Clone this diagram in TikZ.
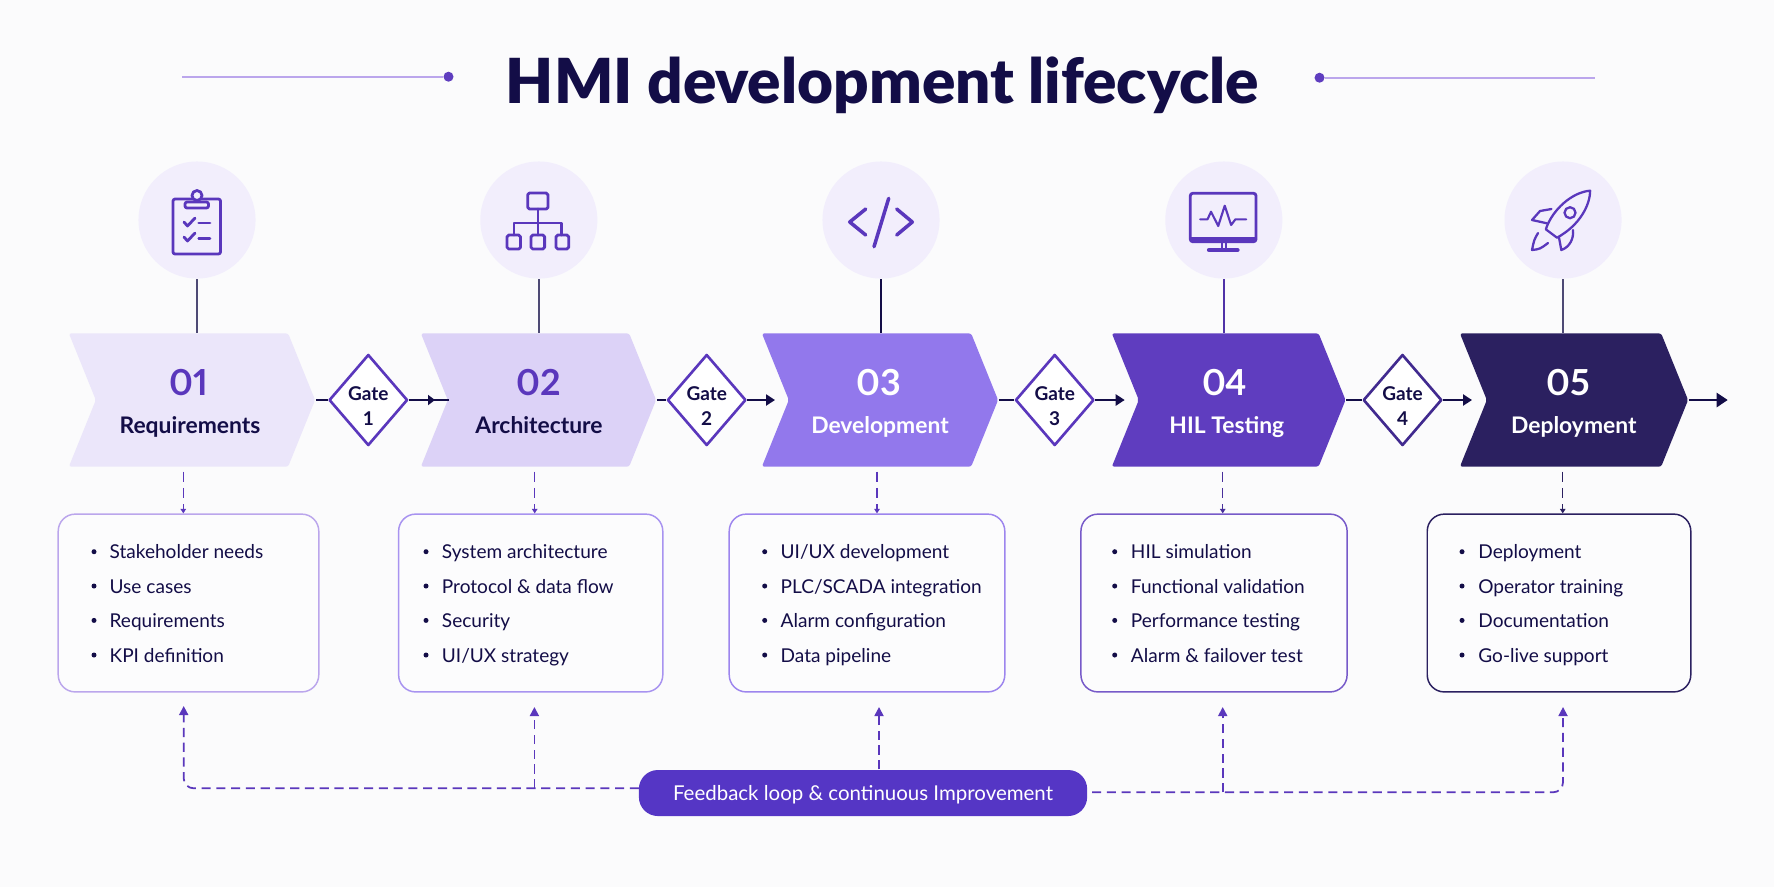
\documentclass[tikz,border=0pt]{standalone}
\usepackage{fontspec}
\setmainfont{Lato}
\newfontfamily\titlefont{Lato Black}
\usetikzlibrary{arrows.meta,shapes.geometric,shapes.symbols}

\definecolor{pagecol}{HTML}{FBFBFC}
\definecolor{inkcol}{HTML}{130D47}
\definecolor{purplecol}{HTML}{5A37BC}
\definecolor{disccol}{HTML}{F2EEFC}
\definecolor{chevcola}{HTML}{EBE6FA}
\definecolor{chevcolb}{HTML}{DCD2F7}
\definecolor{chevcolc}{HTML}{9278EC}
\definecolor{chevcold}{HTML}{5F3DBF}
\definecolor{chevcole}{HTML}{2B2060}
\definecolor{rulecol}{HTML}{BBA6EC}

\tikzset{
    chevron/.style={shape=signal, signal from=west, signal to=east, signal pointer angle=136,
        inner sep=0pt, minimum height=1.33cm, rounded corners=0.6pt},
    disc/.style={circle, fill=disccol, minimum size=1.17cm, inner sep=0pt},
    gatebox/.style={diamond, draw=purplecol, fill=white, line width=0.75pt, inner sep=0pt,
        minimum width=0.785cm, minimum height=0.91cm, line join=round},
    gatetext/.style={align=center, text=inkcol, font=\fontsize{5.4}{6.95}\selectfont\bfseries},
    numtext/.style={anchor=base, font=\fontsize{10.2}{12}\selectfont\bfseries\addfontfeature{Numbers=Proportional}},
    nametext/.style={anchor=base, font=\fontsize{6.5}{8}\selectfont\bfseries},
    listbox/.style={rectangle, rounded corners=0.17cm, line width=0.42pt, fill=white!30!pagecol},
    itemtext/.style={anchor=base west, inner sep=0pt, xshift=-0.3pt, yshift=-0.3pt, text=inkcol, font=\fontsize{5.42}{7}\selectfont},
    itemdot/.style={circle, fill=inkcol, minimum size=0.05cm, inner sep=0pt},
    flowline/.style={draw=inkcol, line width=0.7pt},
    flowarrow/.style={flowline, -{Stealth[length=0.09cm,width=0.11cm,inset=0pt]}},
    stemline/.style={draw=inkcol!75, line width=0.55pt},
    stubarrow/.style={purplecol, dashed, dash pattern=on 3pt off 1.6pt, line width=0.4pt,
        -{Stealth[length=0.045cm,width=0.055cm,inset=0pt]}},
    fbline/.style={draw=purplecol, dash pattern=on 2.6pt off 1.6pt, line width=0.5pt},
    fbarrow/.style={fbline, -{Stealth[length=0.09cm,width=0.09cm,inset=0pt]}},
    iconline/.style={draw=purplecol, line width=0.8pt, line cap=round, line join=round},
}

\begin{document}
\begin{tikzpicture}[x=0.01cm, y=-0.01cm]
    % Page background
    \fill[pagecol] (0,0) rectangle (1774,887);

    % Title with its two side rules
    \node[anchor=base, text=inkcol, font=\fontsize{17.65}{20}\selectfont\titlefont] (title) at (882.5,103) {HMI development lifecycle};
    \node[circle, fill=chevcold, minimum size=0.1cm, inner sep=0pt] (dotleft) at (448.5,76.7) {};
    \node[circle, fill=chevcold, minimum size=0.1cm, inner sep=0pt] (dotright) at (1319.5,77.7) {};
    \coordinate (ruleleft) at (182,76.7);
    \coordinate (ruleright) at (1595,77.7);
    \draw[rulecol, line width=0.5pt] (ruleleft) -- (dotleft);
    \draw[rulecol, line width=0.5pt] (dotright) -- (ruleright);

    % Icon discs
    \node[disc] (disc1) at (197,220) {};
    \node[disc] (disc2) at (538.8,220) {};
    \node[disc] (disc3) at (881,220) {};
    \node[disc] (disc4) at (1223.8,220) {};
    \node[disc] (disc5) at (1563,220) {};

    % Chevrons
    \node[chevron, fill=chevcola, minimum width=2.46cm] (chev1) at (192,400) {};
    \node[chevron, fill=chevcolb, minimum width=2.35cm] (chev2) at (538.5,400) {};
    \node[chevron, fill=chevcolc, minimum width=2.36cm] (chev3) at (880,400) {};
    \node[chevron, fill=chevcold, minimum width=2.335cm] (chev4) at (1228.7,400) {};
    \node[chevron, fill=chevcole, minimum width=2.28cm] (chev5) at (1574,400) {};

    % Stems from discs down to the chevrons
    \draw[stemline] (disc1.south) -- (disc1.south |- chev1.north);
    \draw[stemline] (disc2.south) -- (disc2.south |- chev2.north);
    \draw[stemline, draw=inkcol] (disc3.south) -- (disc3.south |- chev3.north);
    \draw[stemline, draw=chevcold!80!inkcol] (disc4.south) -- (disc4.south |- chev4.north);
    \draw[stemline] (disc5.south) -- (disc5.south |- chev5.north);

    % Chevron labels
    \node[numtext, text=purplecol] (num1) at (188.5,395) {01};
    \node[nametext, text=inkcol] (name1) at (190,433.2) {Requirements};
    \node[numtext, text=purplecol] (num2) at (539,395) {02};
    \node[nametext, text=inkcol] (name2) at (539,433.2) {Architecture};
    \node[numtext, text=white] (num3) at (879,395) {03};
    \node[nametext, text=white] (name3) at (880,433.2) {Development};
    \node[numtext, text=white] (num4) at (1224.7,395) {04};
    \node[nametext, text=white] (name4) at (1226.8,433.2) {HIL Testing};
    \node[numtext, text=white] (num5) at (1568.6,395) {05};
    \node[nametext, text=white] (name5) at (1573.8,433.2) {Deployment};

    % Gates
    \node[gatebox] (gate1) at (368.3,400) {};
    \node[gatebox] (gate2) at (706.7,400) {};
    \node[gatebox] (gate3) at (1054.7,400) {};
    \node[gatebox, draw=chevcold!60!inkcol] (gate4) at (1402.5,400) {};
    \node[gatetext] (gatetext1) at (368.3,406) {Gate\\1};
    \node[gatetext] (gatetext2) at (706.7,406) {Gate\\2};
    \node[gatetext] (gatetext3) at (1054.7,406) {Gate\\3};
    \node[gatetext] (gatetext4) at (1402.5,406) {Gate\\4};

    % Main flow along the chevrons
    \coordinate (head1) at (435,400);
    \coordinate (head2) at (775,400);
    \coordinate (head3) at (1124.7,400);
    \coordinate (head4) at (1472,400);
    \coordinate (head5) at (1727.7,400);
    \coordinate (notch2) at (449,400);
    \draw[flowline] (chev1.east) -- (gate1.west);
    \draw[flowline] (gate1.east) -- (notch2);
    \draw[flowarrow, -{Stealth[length=0.07cm,width=0.1cm,inset=0pt]}] (gate1.east) -- (head1);
    \draw[flowline] (chev2.east) -- (gate2.west);
    \draw[flowarrow] (gate2.east) -- (head2);
    \draw[flowline] (chev3.east) -- (gate3.west);
    \draw[flowarrow] (gate3.east) -- (head3);
    \draw[flowline] (chev4.east) -- (gate4.west);
    \draw[flowarrow] (gate4.east) -- (head4);
    \draw[flowarrow, -{Stealth[length=0.11cm,width=0.14cm,inset=0pt]}] (chev5.east) -- (head5);

    % Detail boxes
    \node[listbox, draw=rulecol, minimum width=2.604cm, minimum height=1.777cm] (box1) at (188.5,603) {};
    \node[listbox, draw=chevcolc!80, minimum width=2.64cm, minimum height=1.777cm] (box2) at (530.7,603) {};
    \node[listbox, draw=chevcolc!90, minimum width=2.754cm, minimum height=1.777cm] (box3) at (867,603) {};
    \node[listbox, draw=chevcold!85, minimum width=2.66cm, minimum height=1.777cm] (box4) at (1214,603) {};
    \node[listbox, draw=chevcole, minimum width=2.634cm, minimum height=1.777cm] (box5) at (1559,603) {};

    % Dashed stubs from chevrons to boxes
    \coordinate (stub1) at (183.3,471.7);
    \coordinate (stub2) at (534.7,471.7);
    \coordinate (stub3) at (877,471.7);
    \coordinate (stub4) at (1222.7,471.7);
    \coordinate (stub5) at (1562.7,471.7);
    \draw[stubarrow] (stub1) -- (stub1 |- box1.north);
    \draw[stubarrow] (stub2) -- (stub2 |- box2.north);
    \draw[stubarrow] (stub3) -- (stub3 |- box3.north);
    \draw[stubarrow, chevcold!70!inkcol] (stub4) -- (stub4 |- box4.north);
    \draw[stubarrow, chevcole] (stub5) -- (stub5 |- box5.north);

    % Box 1 items
    \node[itemdot] (dot11) at (94,551.7) {};
    \node[itemtext] (item11) at (110,557.7) {Stakeholder needs};
    \node[itemdot] (dot12) at (94,586) {};
    \node[itemtext] (item12) at (110,592) {Use cases};
    \node[itemdot] (dot13) at (94,620.4) {};
    \node[itemtext] (item13) at (110,626.3) {Requirements};
    \node[itemdot] (dot14) at (94,655) {};
    \node[itemtext] (item14) at (110,661) {KPI definition};

    % Box 2 items
    \node[itemdot] (dot21) at (426,551.7) {};
    \node[itemtext] (item21) at (442.3,557.7) {System architecture};
    \node[itemdot] (dot22) at (426,586) {};
    \node[itemtext] (item22) at (442.3,592) {Protocol \& data flow};
    \node[itemdot] (dot23) at (426,620.4) {};
    \node[itemtext] (item23) at (442.3,626.3) {Security};
    \node[itemdot] (dot24) at (426,655) {};
    \node[itemtext] (item24) at (442.3,661) {UI/UX strategy};

    % Box 3 items
    \node[itemdot] (dot31) at (764.7,551.7) {};
    \node[itemtext] (item31) at (781,557.7) {UI/UX development};
    \node[itemdot] (dot32) at (764.7,586) {};
    \node[itemtext] (item32) at (781,592) {PLC/SCADA integration};
    \node[itemdot] (dot33) at (764.7,620.4) {};
    \node[itemtext] (item33) at (781,626.3) {Alarm configuration};
    \node[itemdot] (dot34) at (764.7,655) {};
    \node[itemtext] (item34) at (781,661) {Data pipeline};

    % Box 4 items
    \node[itemdot] (dot41) at (1114.7,551.7) {};
    \node[itemtext] (item41) at (1131.3,557.7) {HIL simulation};
    \node[itemdot] (dot42) at (1114.7,586) {};
    \node[itemtext] (item42) at (1131.3,592) {Functional validation};
    \node[itemdot] (dot43) at (1114.7,620.4) {};
    \node[itemtext] (item43) at (1131.3,626.3) {Performance testing};
    \node[itemdot] (dot44) at (1114.7,655) {};
    \node[itemtext] (item44) at (1131.3,661) {Alarm \& failover test};

    % Box 5 items
    \node[itemdot] (dot51) at (1462,551.7) {};
    \node[itemtext] (item51) at (1478.7,557.7) {Deployment};
    \node[itemdot] (dot52) at (1462,586) {};
    \node[itemtext] (item52) at (1478.7,592) {Operator training};
    \node[itemdot] (dot53) at (1462,620.4) {};
    \node[itemtext] (item53) at (1478.7,626.3) {Documentation};
    \node[itemdot] (dot54) at (1462,655) {};
    \node[itemtext] (item54) at (1478.7,661) {Go-live support};

    % Feedback pill
    \node[rectangle, rounded corners=0.19cm, fill=chevcold!85!purplecol!90!blue, text=white, minimum width=4.48cm, minimum height=0.46cm, inner sep=0pt,
        text height=4pt, text depth=0pt, font=\fontsize{5.82}{7}\selectfont] (pill) at (863,793) {Feedback loop \& continuous Improvement};

    % Feedback arrows back to the boxes
    \coordinate (fbtip1) at (183.7,706);
    \coordinate (fbtip2) at (534.4,707);
    \coordinate (fbtip3) at (879,707);
    \coordinate (fbtip4) at (1222.7,707);
    \coordinate (fbtip5) at (1563,707);
    \coordinate (fbleft) at (639,788.3);
    \coordinate (fbright) at (1092,792.3);
    \draw[fbarrow, rounded corners=0.1cm] (fbleft) -- (fbleft -| fbtip1) -- (fbtip1);
    \draw[fbarrow] (fbleft -| fbtip2) -- (fbtip2);
    \draw[fbarrow] (pill.north -| fbtip3) -- (fbtip3);
    \draw[fbarrow, rounded corners=0.1cm] (fbright) -- (fbright -| fbtip5) -- (fbtip5);
    \draw[fbarrow] (fbright -| fbtip4) -- (fbtip4);

    % Icon 1: clipboard
    \draw[iconline, rounded corners=0.6pt] (173,199) rectangle (220.5,254);
    \draw[iconline, fill=disccol, rounded corners=0.6pt] (185,202) rectangle (208.5,208);
    \draw[iconline, fill=disccol] (197,195.5) circle (0.05cm);
    \draw[iconline] (184,222) -- (187.5,226) -- (195,218);
    \draw[iconline] (198.7,223) -- (210,223);
    \draw[iconline] (184,237) -- (187.5,241) -- (195,233);
    \draw[iconline] (198.7,238.7) -- (210,238.7);

    % Icon 2: hierarchy
    \draw[iconline] (538,209) -- (538,235);
    \draw[iconline] (514,235) -- (514,223) -- (561.6,223) -- (561.6,235);
    \draw[iconline, rounded corners=0.5pt] (527.7,193) rectangle (548,209);
    \draw[iconline, rounded corners=0.5pt] (507,235) rectangle (520.5,249);
    \draw[iconline, rounded corners=0.5pt] (531,235) rectangle (544.6,249);
    \draw[iconline, rounded corners=0.5pt] (556,235) rectangle (568.7,249);

    % Icon 3: code brackets
    \draw[iconline, line width=1pt] (865.7,209) -- (849.7,222) -- (865.7,235);
    \draw[iconline, line width=1pt] (896.7,209) -- (912.3,222) -- (896.7,235);
    \draw[iconline, line width=1pt] (888.7,198.3) -- (874,246.7);

    % Icon 4: monitor
    \draw[iconline, rounded corners=0.7pt] (1190.3,193.3) rectangle (1256,241.7);
    \fill[purplecol] (1190.3,237) rectangle (1256,241.7);
    \draw[iconline, line width=0.6pt] (1222,241.7) -- (1222,248);
    \draw[iconline, line width=0.6pt] (1226,241.7) -- (1226,248);
    \draw[iconline, line width=1.2pt] (1209,250) -- (1237.5,250);
    \draw[iconline, line width=0.6pt] (1200.2,219.3) -- (1207.5,219.3) -- (1211,211.7) -- (1218.2,226) -- (1224.7,205.7) -- (1231.1,225) -- (1235.4,219.3) -- (1246.2,219.3);

    % Icon 5: rocket
    \draw[iconline, line width=0.65pt] (1590.1,190.7) .. controls (1572,192) and (1552,210) .. (1545.8,229.3) -- (1557,237.7) .. controls (1580,225) and (1590,205) .. cycle;
    \draw[iconline, line width=0.65pt] (1570,212.7) circle (0.055cm);
    \draw[iconline, line width=0.65pt] (1551.4,209) -- (1540,211) -- (1532,220) -- (1547,223.3);
    \draw[iconline, line width=0.65pt] (1559,237.7) -- (1561.3,250) .. controls (1570,247) and (1574,238) .. (1572.9,230);
    \draw[iconline, line width=0.65pt] (1538,233) .. controls (1534,240) .. (1532,250) .. controls (1540,249) .. (1548,243);
\end{tikzpicture}
\end{document}
